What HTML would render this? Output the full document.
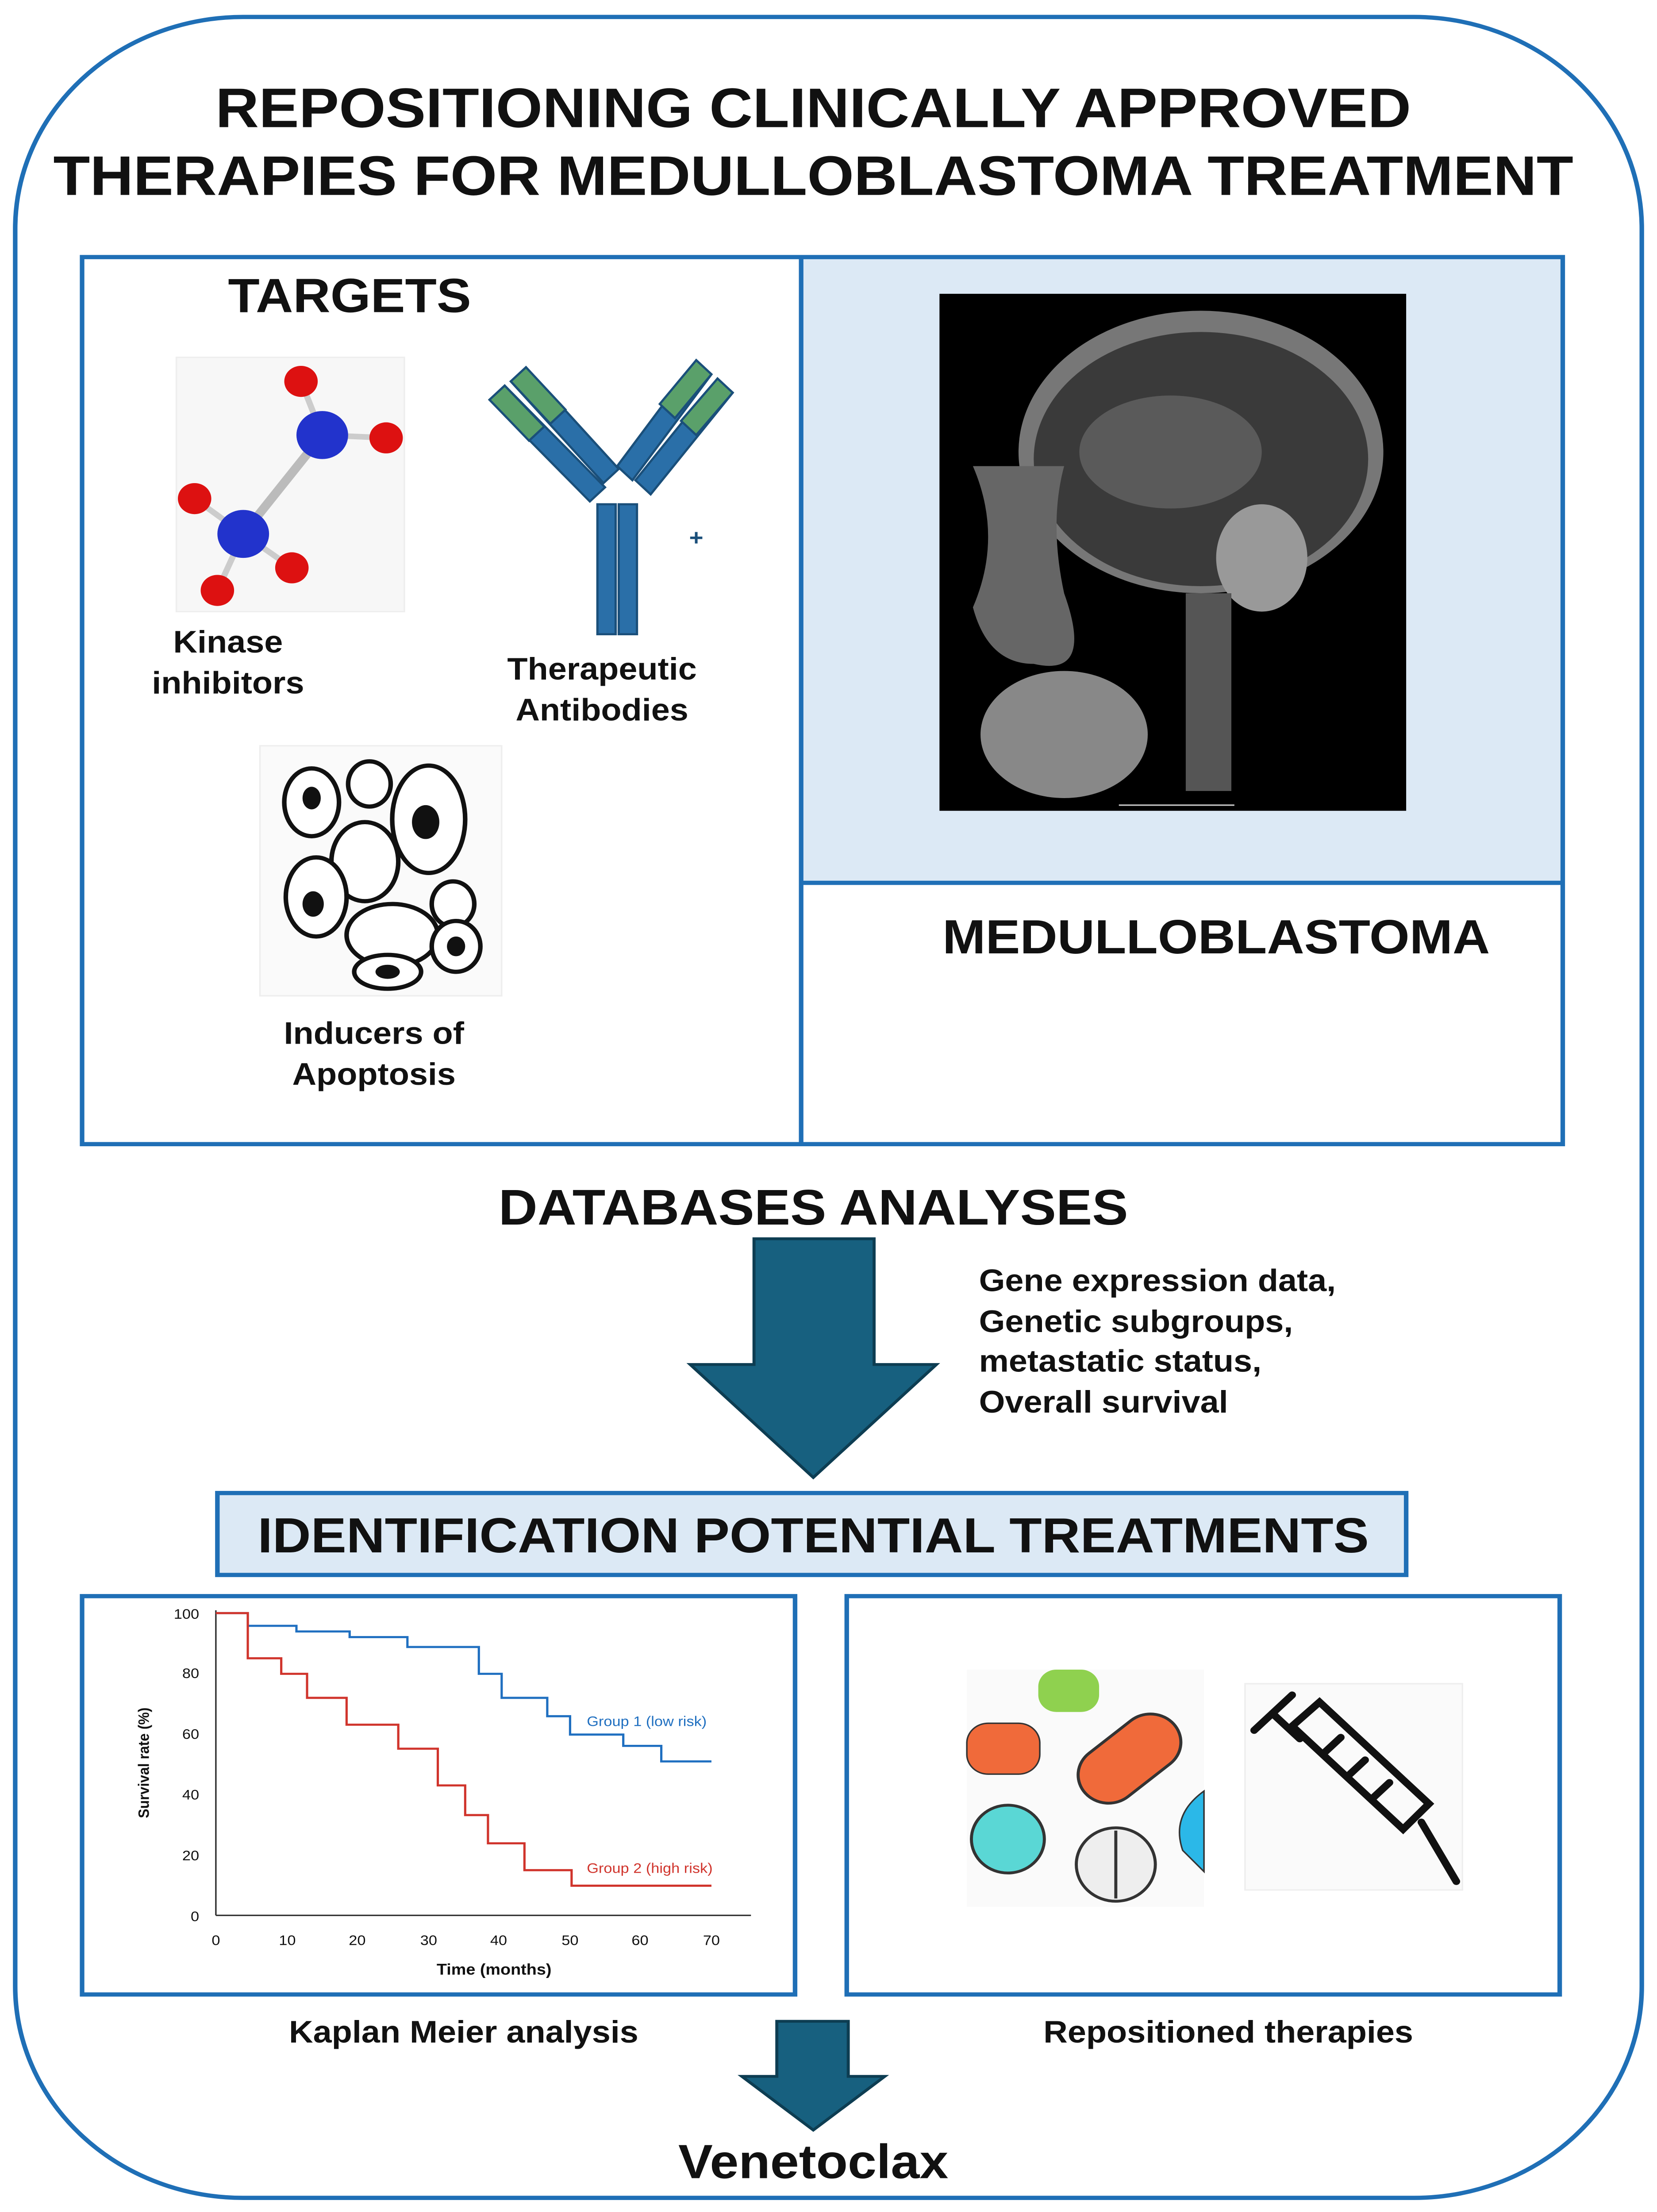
<!DOCTYPE html>
<html><head><meta charset="utf-8"><style>html,body{margin:0;padding:0;background:#fff;width:100%;height:100%;overflow:hidden}svg{display:block;position:fixed;left:0;top:0;width:100vw;height:100vh}text{font-family:"Liberation Sans",Arial,sans-serif;font-weight:bold;fill:#111}</style></head><body>
<svg viewBox="0 0 1090 1566" preserveAspectRatio="none" xmlns="http://www.w3.org/2000/svg">
<rect width="1090" height="1566" fill="#fff"/>
<rect x="10" y="12" width="1070" height="1544" rx="150" ry="150" fill="none" stroke="#1f6fb6" stroke-width="3"/>
<text x="535" y="90" font-size="39.5" text-anchor="middle">REPOSITIONING CLINICALLY APPROVED</text>
<text x="535" y="138" font-size="39.5" text-anchor="middle">THERAPIES FOR MEDULLOBLASTOMA TREATMENT</text>
<rect x="528" y="182" width="500" height="443" fill="#dce9f5"/>
<rect x="54" y="182" width="974" height="628" fill="none" stroke="#1f6fb6" stroke-width="3"/>
<line x1="527" y1="182" x2="527" y2="810" stroke="#1f6fb6" stroke-width="3"/>
<line x1="527" y1="625" x2="1028" y2="625" stroke="#1f6fb6" stroke-width="3"/>
<text x="150" y="221" font-size="34">TARGETS</text>
<rect x="116" y="253" width="150" height="180" fill="#f7f7f7" stroke="#eee"/>
<line x1="212" y1="308" x2="160" y2="378" stroke="#bbb" stroke-width="6"/>
<line x1="212" y1="308" x2="198" y2="270" stroke="#ccc" stroke-width="4"/>
<line x1="212" y1="308" x2="254" y2="310" stroke="#ccc" stroke-width="4"/>
<line x1="160" y1="378" x2="128" y2="353" stroke="#ccc" stroke-width="4"/>
<line x1="160" y1="378" x2="143" y2="418" stroke="#ccc" stroke-width="4"/>
<line x1="160" y1="378" x2="192" y2="402" stroke="#ccc" stroke-width="4"/>
<circle cx="212" cy="308" r="17" fill="#2233cc"/>
<circle cx="160" cy="378" r="17" fill="#2233cc"/>
<circle cx="198" cy="270" r="11" fill="#d11"/>
<circle cx="254" cy="310" r="11" fill="#d11"/>
<circle cx="128" cy="353" r="11" fill="#d11"/>
<circle cx="143" cy="418" r="11" fill="#d11"/>
<circle cx="192" cy="402" r="11" fill="#d11"/>
<text x="150" y="462" font-size="22" text-anchor="middle">Kinase</text>
<text x="150" y="491" font-size="22" text-anchor="middle">inhibitors</text>
<g stroke="#1a4f7a" stroke-width="1.5">
<rect x="393" y="357" width="12" height="92" fill="#2a6fa8"/>
<rect x="407" y="357" width="12" height="92" fill="#2a6fa8"/>
<polygon points="322,283 332,273 398,345 388,355" fill="#2a6fa8"/>
<polygon points="322,283 332,273 358,302 348,312" fill="#5aa06a"/>
<polygon points="336,270 346,260 407,332 397,342" fill="#2a6fa8"/>
<polygon points="336,270 346,260 372,290 362,300" fill="#5aa06a"/>
<polygon points="482,278 472,268 418,340 428,350" fill="#2a6fa8"/>
<polygon points="482,278 472,268 448,298 458,308" fill="#5aa06a"/>
<polygon points="468,265 458,255 406,330 416,340" fill="#2a6fa8"/>
<polygon points="468,265 458,255 434,286 444,296" fill="#5aa06a"/>
</g>
<text x="458" y="386" font-size="16" text-anchor="middle" style="fill:#1a4f7a">+</text>
<text x="396" y="481" font-size="22" text-anchor="middle">Therapeutic</text>
<text x="396" y="510" font-size="22" text-anchor="middle">Antibodies</text>
<rect x="171" y="528" width="159" height="177" fill="#fafafa" stroke="#eee"/>
<g fill="#fff" stroke="#111" stroke-width="3">
<ellipse cx="205" cy="568" rx="18" ry="24"/>
<ellipse cx="243" cy="555" rx="14" ry="16"/>
<ellipse cx="282" cy="580" rx="24" ry="38"/>
<ellipse cx="240" cy="610" rx="22" ry="28"/>
<ellipse cx="208" cy="635" rx="20" ry="28"/>
<ellipse cx="258" cy="662" rx="30" ry="22"/>
<ellipse cx="298" cy="640" rx="14" ry="16"/>
<ellipse cx="300" cy="670" rx="16" ry="18"/>
<ellipse cx="255" cy="688" rx="22" ry="12"/>
</g>
<g fill="#111"><ellipse cx="280" cy="582" rx="9" ry="12"/><ellipse cx="206" cy="640" rx="7" ry="9"/><ellipse cx="205" cy="565" rx="6" ry="8"/><ellipse cx="300" cy="670" rx="6" ry="7"/><ellipse cx="255" cy="688" rx="8" ry="5"/></g>
<text x="246" y="739" font-size="22" text-anchor="middle">Inducers of</text>
<text x="246" y="768" font-size="22" text-anchor="middle">Apoptosis</text>
<rect x="618" y="208" width="307" height="366" fill="#000"/>
<ellipse cx="790" cy="320" rx="120" ry="100" fill="#777"/>
<ellipse cx="790" cy="325" rx="110" ry="90" fill="#3a3a3a"/>
<ellipse cx="770" cy="320" rx="60" ry="40" fill="#5a5a5a"/>
<ellipse cx="830" cy="395" rx="30" ry="38" fill="#999"/>
<path d="M640,330 Q660,380 640,430 Q650,470 680,470 Q720,480 700,420 Q690,370 700,330 Z" fill="#666"/>
<ellipse cx="700" cy="520" rx="55" ry="45" fill="#888"/>
<rect x="780" y="420" width="30" height="140" fill="#555"/>
<line x1="736" y1="570" x2="812" y2="570" stroke="#ccc" stroke-width="1"/>
<text x="620" y="675" font-size="34">MEDULLOBLASTOMA</text>
<text x="535" y="867" font-size="35.5" text-anchor="middle">DATABASES ANALYSES</text>
<polygon points="496,877 575,877 575,966 616,966 535,1046 454,966 496,966" fill="#17607f" stroke="#0d3d52" stroke-width="2"/>
<text x="644" y="914" font-size="22">Gene expression data,</text>
<text x="644" y="943" font-size="22">Genetic subgroups,</text>
<text x="644" y="971" font-size="22">metastatic status,</text>
<text x="644" y="1000" font-size="22">Overall survival</text>
<rect x="143" y="1057" width="782" height="58" fill="#dce9f5" stroke="#1f6fb6" stroke-width="3"/>
<text x="535" y="1099" font-size="35" text-anchor="middle">IDENTIFICATION POTENTIAL TREATMENTS</text>
<rect x="54" y="1130" width="469" height="282" fill="none" stroke="#1f6fb6" stroke-width="3"/>
<rect x="557" y="1130" width="469" height="282" fill="none" stroke="#1f6fb6" stroke-width="3"/>
<g stroke="#333" stroke-width="1" fill="none"><line x1="142" y1="1140" x2="142" y2="1356"/><line x1="142" y1="1356" x2="494" y2="1356"/></g>
<g font-size="10">
<text x="131" y="1146" text-anchor="end" style="font-weight:normal">100</text>
<text x="131" y="1188" text-anchor="end" style="font-weight:normal">80</text>
<text x="131" y="1231" text-anchor="end" style="font-weight:normal">60</text>
<text x="131" y="1274" text-anchor="end" style="font-weight:normal">40</text>
<text x="131" y="1317" text-anchor="end" style="font-weight:normal">20</text>
<text x="131" y="1360" text-anchor="end" style="font-weight:normal">0</text>
<text x="142" y="1377" text-anchor="middle" style="font-weight:normal">0</text>
<text x="189" y="1377" text-anchor="middle" style="font-weight:normal">10</text>
<text x="235" y="1377" text-anchor="middle" style="font-weight:normal">20</text>
<text x="282" y="1377" text-anchor="middle" style="font-weight:normal">30</text>
<text x="328" y="1377" text-anchor="middle" style="font-weight:normal">40</text>
<text x="375" y="1377" text-anchor="middle" style="font-weight:normal">50</text>
<text x="421" y="1377" text-anchor="middle" style="font-weight:normal">60</text>
<text x="468" y="1377" text-anchor="middle" style="font-weight:normal">70</text>
</g>
<text x="325" y="1398" font-size="11" text-anchor="middle">Time (months)</text>
<text x="98" y="1248" font-size="10" text-anchor="middle" transform="rotate(-90 98 1248)">Survival rate (%)</text>
<polyline fill="none" stroke="#1f6fc0" stroke-width="1.5" points="142,1142 163,1142 163,1151 195,1151 195,1155 230,1155 230,1159 268,1159 268,1166 315,1166 315,1185 330,1185 330,1202 360,1202 360,1215 375,1215 375,1228 410,1228 410,1236 435,1236 435,1247 468,1247"/>
<polyline fill="none" stroke="#d0342c" stroke-width="1.5" points="142,1142 163,1142 163,1174 185,1174 185,1185 202,1185 202,1202 228,1202 228,1221 262,1221 262,1238 288,1238 288,1264 306,1264 306,1285 321,1285 321,1305 345,1305 345,1324 376,1324 376,1335 468,1335"/>
<text x="386" y="1222" font-size="10" style="font-weight:normal;fill:#1f6fc0">Group 1 (low risk)</text>
<text x="386" y="1326" font-size="10" style="font-weight:normal;fill:#d0342c">Group 2 (high risk)</text>
<rect x="636" y="1182" width="156" height="168" fill="#fafafa"/>
<rect x="683" y="1182" width="40" height="30" rx="12" fill="#8fd14f"/>
<rect x="636" y="1220" width="48" height="36" rx="14" fill="#f06a3a" stroke="#333"/>
<g transform="rotate(-40 743 1245)"><rect x="705" y="1225" width="76" height="40" rx="20" fill="#f06a3a" stroke="#333" stroke-width="2"/></g>
<circle cx="663" cy="1302" r="24" fill="#5ad7d5" stroke="#333" stroke-width="2"/>
<circle cx="734" cy="1320" r="26" fill="#eee" stroke="#333" stroke-width="2"/>
<line x1="734" y1="1296" x2="734" y2="1344" stroke="#333" stroke-width="2"/>
<path d="M792,1268 Q770,1285 778,1310 L792,1325 Z" fill="#2bb8e8" stroke="#333"/>
<rect x="819" y="1192" width="143" height="146" fill="#fafafa" stroke="#eee"/>
<g stroke="#111" stroke-width="5" fill="none" stroke-linecap="round">
<line x1="825" y1="1225" x2="850" y2="1200"/>
<line x1="837" y1="1213" x2="855" y2="1231"/>
<polygon points="850,1222 868,1205 940,1277 923,1295"/>
<line x1="935" y1="1290" x2="958" y2="1332"/>
<line x1="872" y1="1240" x2="882" y2="1230"/><line x1="888" y1="1256" x2="898" y2="1246"/><line x1="904" y1="1272" x2="914" y2="1262"/>
</g>
<text x="305" y="1446" font-size="22" text-anchor="middle">Kaplan Meier analysis</text>
<text x="808" y="1446" font-size="22" text-anchor="middle">Repositioned therapies</text>
<polygon points="511,1431 558,1431 558,1470 582,1470 535,1508 488,1470 511,1470" fill="#17607f" stroke="#0d3d52" stroke-width="2"/>
<text x="535" y="1542" font-size="34" text-anchor="middle">Venetoclax</text>
</svg>
</body></html>
